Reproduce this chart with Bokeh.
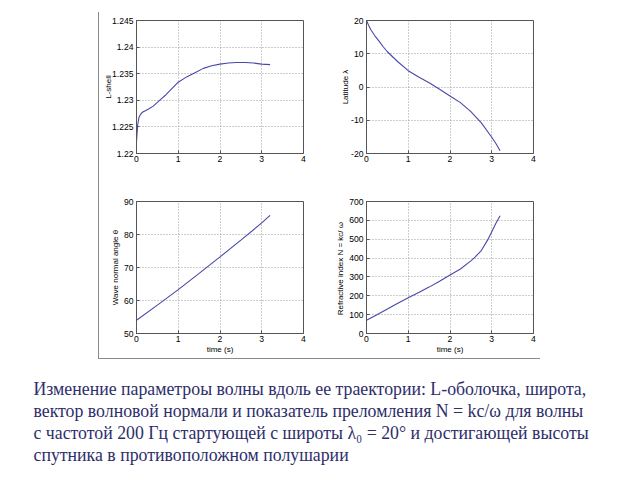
from bokeh.plotting import figure
from bokeh.layouts import column, row
from bokeh.models import Range1d, FixedTicker, NumeralTickFormatter, Spacer
from bokeh.core.properties import value
from bokeh.embed import file_html
from bokeh.resources import INLINE

# ---- data ----
t_L = [0, 0.03, 0.06, 0.1, 0.15, 0.2, 0.3, 0.4, 0.5, 0.6, 0.7, 0.8, 0.9, 1.0,
       1.2, 1.4, 1.6, 1.8, 2.0, 2.2, 2.4, 2.6, 2.8, 3.0, 3.2]
L_shell = [1.2222, 1.2255, 1.2268, 1.2274, 1.2278, 1.2280, 1.2284, 1.2289, 1.2296,
           1.2303, 1.2310, 1.2318, 1.2326, 1.2334, 1.2344, 1.2352, 1.2360, 1.2365,
           1.2368, 1.2370, 1.2371, 1.2371, 1.2370, 1.2368, 1.2367]

t_lat = [0, 0.05, 0.1, 0.2, 0.3, 0.4, 0.5, 0.75, 1.0, 1.25, 1.5, 1.75, 2.0, 2.25,
         2.5, 2.75, 3.0, 3.1, 3.2]
latitude = [20, 18.6, 17.3, 15.4, 13.8, 12.1, 10.6, 7.6, 4.9, 3.0, 1.3, -0.7, -2.7,
            -4.7, -7.4, -10.8, -15.1, -17.0, -19.2]

t_wna = [0, 0.5, 1.0, 1.5, 2.0, 2.5, 3.0, 3.2]
wave_angle = [54.0, 58.6, 63.3, 68.2, 73.2, 78.3, 83.5, 85.8]

t_n = [0, 0.25, 0.5, 0.75, 1.0, 1.25, 1.5, 1.75, 2.0, 2.25, 2.5, 2.6, 2.75, 2.9,
       3.0, 3.1, 3.2]
refr_index = [70, 100, 130, 160, 190, 218, 246, 277, 310, 342, 385, 405, 440, 495,
              540, 585, 625]

x_ticks = [0, 1, 2, 3, 4]
yt_L = [1.22, 1.225, 1.23, 1.235, 1.24, 1.245]
yt_lat = [-20, -10, 0, 10, 20]
yt_lat_labels = {-20: "-20", -10: "-10", 0: "0", 10: "10", 20: "20"}
yt_wna = [50, 60, 70, 80, 90]
yt_n = [0, 100, 200, 300, 400, 500, 600, 700]

caption_lines = [
    "Изменение параметроы волны вдоль ее траектории: L-оболочка, широта,",
    "вектор волновой нормали  и показатель преломления N = kc/ω для волны",
    "с частотой 200 Гц стартующей с широты λ₀ = 20° и достигающей высоты",
    "спутника в противоположном полушарии",
]

LINE = "#4848a8"
FONT = "Liberation Sans"


def panel(xs, ys, yr, yticks, ylabel, xlabel, w, h, bl, br, bt, bb,
          fmt=None, overrides=None, lab_standoff=1):
    p = figure(width=w, height=h, x_range=Range1d(0, 4), y_range=Range1d(*yr),
               output_backend="svg", toolbar_location=None, title=None,
               min_border_left=bl, min_border_right=br,
               min_border_top=bt, min_border_bottom=bb)
    p.line(xs, ys, line_color=LINE, line_width=1.1)
    p.xaxis.ticker = FixedTicker(ticks=x_ticks)
    p.yaxis.ticker = FixedTicker(ticks=yticks)
    if fmt is not None:
        p.yaxis.formatter = NumeralTickFormatter(format=fmt)
    if overrides is not None:
        p.yaxis.major_label_overrides = overrides
    for ax in (p.xaxis, p.yaxis):
        ax.major_tick_in = 3
        ax.major_tick_out = 0
        ax.minor_tick_line_color = None
        ax.major_label_text_font = FONT
        ax.major_label_text_font_size = "8.6px"
        ax.major_label_text_color = "#000000"
        ax.axis_label_text_font = FONT
        ax.axis_label_text_font_size = "8px"
        ax.axis_label_text_font_style = "normal"
        ax.axis_label_text_color = "#000000"
        ax.axis_line_color = "#555555"
        ax.major_tick_line_color = "#555555"
    p.yaxis.major_label_standoff = 3
    p.yaxis.axis_label_standoff = lab_standoff
    p.xaxis.major_label_standoff = 2
    p.xaxis.axis_label_standoff = 0
    p.yaxis.axis_label = ylabel
    if xlabel:
        p.xaxis.axis_label = xlabel
    p.grid.grid_line_color = "#9a9a9a"
    p.grid.grid_line_dash = "1 2"
    p.outline_line_color = "#555555"
    p.outline_line_alpha = 1.0
    p.background_fill_color = "white"
    p.border_fill_color = "white"
    return p


tl = panel(t_L, L_shell, (1.22, 1.245), yt_L, "L-shell", None, 230, 168, 37, 26, 8, 27,
           fmt="0.[000]", lab_standoff=-4)
tr = panel(t_lat, latitude, (-20, 20), yt_lat, "Latitude λ", None, 210, 168, 37, 6, 8, 27,
           overrides=yt_lat_labels, lab_standoff=-2)
bl = panel(t_wna, wave_angle, (50, 90), yt_wna, "Wave normal angle θ", "time (s)", 230, 178, 37, 26, 21, 25)
br = panel(t_n, refr_index, (0, 700), yt_n, "Refractive index  N = kc/ ω", "time (s)", 210, 178, 37, 6, 21, 25)

grid = column(row(tl, tr, spacing=0), row(bl, br, spacing=0), spacing=0)

vline = Spacer(width=1, height=346, styles={"background-color": "#8a8a8a"})
hline = Spacer(width=442, height=1, styles={"background-color": "#8a8a8a"})

cap = figure(width=640, height=121, x_range=Range1d(0, 640), y_range=Range1d(121, 0),
             output_backend="svg", toolbar_location=None, title=None,
             min_border=0, min_border_left=0, min_border_right=0,
             min_border_top=0, min_border_bottom=0)
cap.axis.visible = False
cap.grid.visible = False
cap.outline_line_color = None
cap.background_fill_color = "white"
cap.border_fill_color = "white"
cap.text(x=[33] * len(caption_lines), y=[29, 51, 73, 95], text=caption_lines,
         text_font=value("Liberation Serif"), text_font_size="17.8px",
         text_color="#2e2e6a", text_baseline="alphabetic", text_align="left")

layout = column(
    Spacer(width=640, height=12),
    row(Spacer(width=98, height=346), vline, grid, spacing=0),
    row(Spacer(width=98, height=1), hline, spacing=0),
    cap,
    spacing=0,
)

open("out.html", "w").write(file_html(layout, INLINE))
